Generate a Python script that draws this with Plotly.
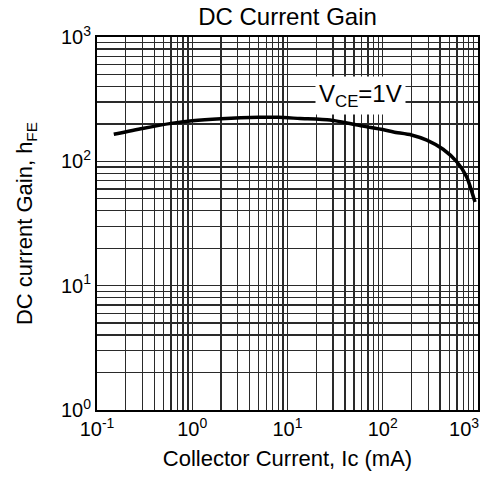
import plotly.graph_objects as go

# Data
collector_current_mA = [0.15, 0.3, 0.6, 1, 2, 5, 8, 13.5, 28, 62, 100, 130, 200, 290, 430, 600, 760, 930]
dc_gain_hFE = [165, 184, 202, 212, 220, 226, 226, 221, 215, 192, 180, 172, 163, 148, 125, 99, 75, 47]

x_major = [0.1, 1, 10, 100, 1000]
x_major_text = ["10<sup>-1</sup>", "10<sup>0</sup>", "10<sup>1</sup>", "10<sup>2</sup>",
                "10<sup>3</sup>\u00a0\u00a0\u00a0\u00a0\u00a0"]
y_major = [1, 10, 100, 1000]
y_major_text = ["10<sup>0</sup>", "10<sup>1</sup>", "10<sup>2</sup>", "10<sup>3</sup>"]

x_minor = [m * d for d in [0.1, 1, 10, 100] for m in range(2, 10)]
y_minor = [m * d for d in [1, 10, 100] for m in range(2, 10)]

FONT = "Liberation Sans, Arial, Helvetica, sans-serif"
GRID = "#2a2a2a"

fig = go.Figure()
fig.add_trace(go.Scatter(
    x=collector_current_mA, y=dc_gain_hFE, mode="lines",
    line=dict(color="black", width=3.5, shape="spline", smoothing=0.6),
    showlegend=False, hoverinfo="skip", cliponaxis=True,
))

fig.update_layout(
    width=481, height=479,
    margin=dict(l=97, r=3, t=37, b=69, autoexpand=False),
    paper_bgcolor="white", plot_bgcolor="white",
    font=dict(family=FONT, color="black"),
    title=dict(text="DC Current Gain", x=0.5, xanchor="center", xref="paper",
               y=1 - 17 / 479, yanchor="middle", automargin=False,
               font=dict(size=24, color="black")),
    showlegend=False,
)

fig.update_xaxes(
    type="log", range=[-1, 3], automargin=False, ticklabeloverflow="allow",
    tickvals=x_major, ticktext=x_major_text, tickfont=dict(size=20),
    showgrid=True, gridcolor=GRID, gridwidth=1.3,
    minor=dict(tickvals=x_minor, showgrid=True, gridcolor=GRID, gridwidth=1.3, ticks=""),
    showline=True, linecolor="black", linewidth=2, mirror=True, ticks="",
    title=dict(text="Collector Current, Ic (mA)", font=dict(size=22), standoff=12),
    zeroline=False,
)
fig.update_yaxes(
    type="log", range=[0, 3], automargin=False, ticklabeloverflow="allow",
    tickvals=y_major, ticktext=y_major_text, tickfont=dict(size=20),
    showgrid=True, gridcolor=GRID, gridwidth=1.3,
    minor=dict(tickvals=y_minor, showgrid=True, gridcolor=GRID, gridwidth=1.3, ticks=""),
    showline=True, linecolor="black", linewidth=2, mirror=True, ticks="",
    title=dict(text="DC current Gain, h<sub>FE</sub>", font=dict(size=22), standoff=22),
    zeroline=False,
)

fig.add_annotation(
    x=1.762, y=2.533, xref="x", yref="y",
    text="V<sub>CE</sub>=1V", showarrow=False,
    font=dict(size=24, color="black"), bgcolor="white",
    borderpad=3,
)

fig.write_html("out.html", config={"displayModeBar": False, "staticPlot": True},
               post_script="document.body.style.margin='0';document.body.style.overflow='hidden';")
